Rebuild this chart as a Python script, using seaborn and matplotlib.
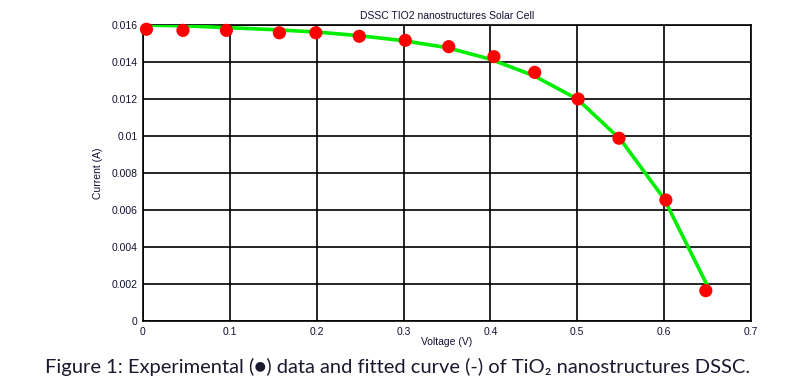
import matplotlib
matplotlib.use("Agg")
import matplotlib.pyplot as plt
import seaborn as sns
import pandas as pd

# Experimental data
exp_voltage = [0.004, 0.046, 0.096, 0.157, 0.199, 0.249, 0.302, 0.352, 0.404, 0.451, 0.501, 0.548, 0.602, 0.648]
exp_current = [0.01577, 0.01571, 0.01571, 0.01558, 0.01558, 0.01539, 0.01517, 0.01483, 0.01429, 0.01344, 0.01200, 0.00988, 0.00654, 0.00164]

# Fitted curve
fit_voltage = [0.0, 0.05, 0.1, 0.15, 0.2, 0.25, 0.3, 0.35, 0.4, 0.45, 0.5, 0.55, 0.6, 0.65]
fit_current = [0.01600, 0.01595, 0.01585, 0.01575, 0.01562, 0.01542, 0.01515, 0.01478, 0.01415, 0.01326, 0.01200, 0.00980, 0.00660, 0.00189]

x_ticks = [0, 0.1, 0.2, 0.3, 0.4, 0.5, 0.6, 0.7]
x_tick_labels = ["0", "0.1", "0.2", "0.3", "0.4", "0.5", "0.6", "0.7"]
y_ticks = [0, 0.002, 0.004, 0.006, 0.008, 0.010, 0.012, 0.014, 0.016]
y_tick_labels = ["0", "0.002", "0.004", "0.006", "0.008", "0.01", "0.012", "0.014", "0.016"]

title = "DSSC TIO2 nanostructures Solar Cell"
xlabel = "Voltage (V)"
ylabel = "Current (A)"
caption = "Figure 1: Experimental (\u25cf) data and fitted curve (-) of TiO\u2082 nanostructures DSSC."

sns.set_style("white")
plt.rcParams["font.family"] = ["Liberation Sans", "DejaVu Sans"]

fig = plt.figure(figsize=(7.95, 3.87), dpi=100)
ax = fig.add_axes([143 / 795, 1 - 321 / 387, (751 - 143) / 795, (321 - 25) / 387])

fit_df = pd.DataFrame({"V": fit_voltage, "I": fit_current})
exp_df = pd.DataFrame({"V": exp_voltage, "I": exp_current})

sns.lineplot(data=fit_df, x="V", y="I", ax=ax, color="#00ee00", linewidth=2.6, zorder=3)
sns.scatterplot(data=exp_df, x="V", y="I", ax=ax, color="red", s=90, edgecolor="none",
                marker="o", zorder=4, clip_on=False)

ax.set_xlim(0, 0.7)
ax.set_ylim(0, 0.016)
ax.set_xticks(x_ticks)
ax.set_xticklabels(x_tick_labels)
ax.set_yticks(y_ticks)
ax.set_yticklabels(y_tick_labels)
ax.grid(True, color="black", linewidth=1.2, linestyle="-")
ax.set_axisbelow(True)
for s in ax.spines.values():
    s.set_visible(True)
    s.set_color("black")
    s.set_linewidth(1.2)
ax.tick_params(axis="both", direction="in", length=3, labelsize=7.5, colors="black",
               labelcolor="#111133", pad=4)

ax.set_xlabel(xlabel, fontsize=7.5, color="#111133", labelpad=0)
ax.set_ylabel(ylabel, fontsize=7.5, color="#111133", labelpad=6)
ax.set_title(title, fontsize=7.5, color="#111133", pad=4)

fig.text(0.5, 1 - 367 / 387, caption, ha="center", va="center", fontsize=14.5,
         color="#1a1a2e", family=["Lato", "DejaVu Sans"])

fig.savefig("out.png", dpi=100)
